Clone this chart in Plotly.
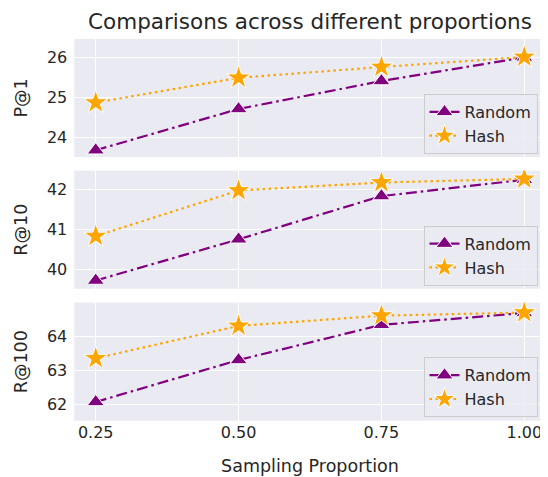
import plotly.graph_objects as go

proportions = [0.25, 0.50, 0.75, 1.00]
x_tick_labels = ["0.25", "0.50", "0.75", "1.00"]

p1_random = [23.67, 24.70, 25.40, 25.99]
p1_hash = [24.86, 25.48, 25.75, 26.00]

r10_random = [39.72, 40.75, 41.83, 42.24]
r10_hash = [40.83, 41.97, 42.17, 42.26]

r100_random = [62.07, 63.30, 64.33, 64.68]
r100_hash = [63.35, 64.30, 64.60, 64.69]

metric_names = ["P@1", "R@10", "R@100"]
y_ticks = [[24, 25, 26], [40, 41, 42], [62, 63, 64]]
y_ranges = [[23.5, 26.45], [39.515, 42.465], [61.52, 64.98]]

# The page body has an 8px default margin; geometry below is in window pixels
OFF = 8
W, H = 548 - OFF, 477 - OFF
FONT = "DejaVu Sans"
TXT = "#262626"
BG = "#EAEAF2"
PURPLE = "#800080"
ORANGE = "#FFA500"

x_left, x_right = 74.3 - OFF, 545.7 - OFF
panels_px = [(39.0, 157.0), (170.7, 288.7), (302.7, 420.7)]
legend_px = [(537.5, 94.0), (537.5, 225.7), (537.5, 357.3)]


def fy(py):
    return 1 - (py - OFF) / H


fig = go.Figure()
series = [(p1_random, p1_hash), (r10_random, r10_hash), (r100_random, r100_hash)]

for i, (rnd, hsh) in enumerate(series):
    ax = "" if i == 0 else str(i + 1)
    leg = "legend" if i == 0 else f"legend{i + 1}"
    fig.add_trace(go.Scatter(
        x=proportions, y=rnd, name="Random", mode="lines+markers",
        xaxis="x" + ax, yaxis="y" + ax, legend=leg,
        line=dict(color=PURPLE, width=2.2, dash="11px,4px,2.5px,4px"),
        marker=dict(symbol="triangle-up", size=15, color=PURPLE,
                    line=dict(color="white", width=1)),
    ))
    fig.add_trace(go.Scatter(
        x=proportions, y=hsh, name="Hash", mode="lines+markers",
        xaxis="x" + ax, yaxis="y" + ax, legend=leg,
        line=dict(color=ORANGE, width=2.2, dash="2.5px,3.5px"),
        marker=dict(symbol="star", size=18, color=ORANGE,
                    line=dict(color="white", width=1)),
    ))

layout = dict(
    width=W, height=H,
    margin=dict(l=0, r=0, t=0, b=0, autoexpand=False),
    paper_bgcolor="white",
    plot_bgcolor=BG,
    font=dict(family=FONT, color=TXT, size=16),
    showlegend=True,
    title=dict(text="Comparisons across different proportions",
               x=(x_left + x_right) / 2 / W, xanchor="center",
               y=fy(21), yanchor="middle",
               font=dict(size=21.5, color=TXT, family=FONT)),
)

for i in range(3):
    ax = "" if i == 0 else str(i + 1)
    top, bot = panels_px[i]
    layout["xaxis" + ax] = dict(
        domain=[x_left / W, x_right / W],
        range=[0.2125, 1.0375],
        anchor="y" + ax,
        tickvals=proportions,
        ticktext=x_tick_labels,
        showticklabels=(i == 2),
        showgrid=True, gridcolor="white", gridwidth=1.3,
        zeroline=False, showline=False, ticks="",
        automargin=False,
        tickfont=dict(size=16, color=TXT),
        title=dict(text="Sampling Proportion", font=dict(size=17.5, color=TXT), standoff=19) if i == 2 else None,
    )
    layout["yaxis" + ax] = dict(
        domain=[fy(bot), fy(top)],
        range=y_ranges[i],
        anchor="x" + ax,
        tickvals=y_ticks[i],
        showgrid=True, gridcolor="white", gridwidth=1.3,
        zeroline=False, showline=False, ticks="",
        automargin=False,
        ticklabelstandoff=6,
        tickfont=dict(size=16, color=TXT),
        title=dict(text=metric_names[i], font=dict(size=17.5, color=TXT), standoff=14),
    )
    lx, ly = legend_px[i]
    layout["legend" if i == 0 else f"legend{i + 1}"] = dict(
        x=(lx - OFF) / W, xanchor="right", y=fy(ly), yanchor="top",
        bgcolor="rgba(234,234,242,0.8)", bordercolor="#CCCCCC", borderwidth=1,
        font=dict(size=16, color=TXT, family=FONT),
        tracegroupgap=0, itemwidth=30, entrywidth=80,
    )

fig.update_layout(**layout)
fig.write_html("out.html")
